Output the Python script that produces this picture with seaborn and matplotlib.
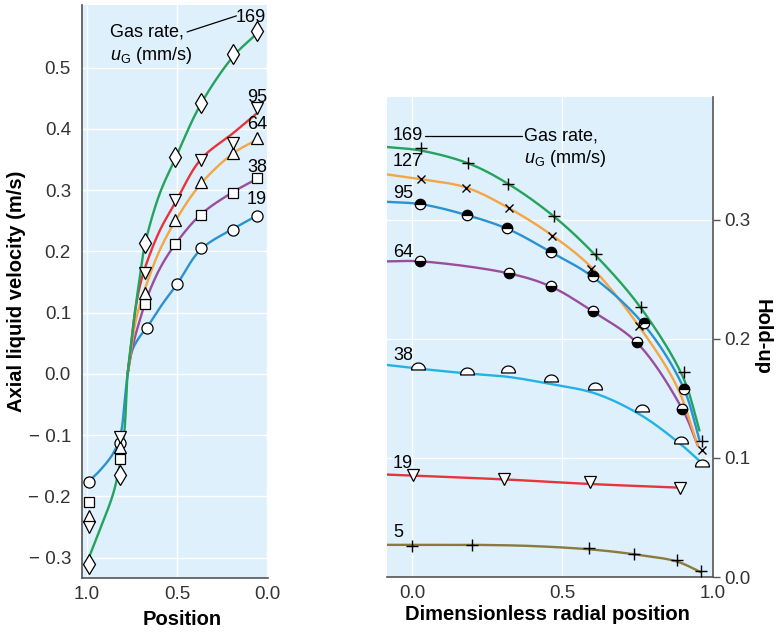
"""Axial liquid velocity and hold-up profiles for several gas rates."""

import matplotlib.pyplot as plt
import numpy as np
import seaborn as sns
from matplotlib.path import Path
from matplotlib.ticker import FixedLocator, FuncFormatter

# ---- left panel: axial liquid velocity (m/s) vs position ----
pos_pts = [0.99, 0.82, 0.68, 0.51, 0.37, 0.19, 0.06]
pos_pts_19 = [0.99, 0.82, 0.67, 0.50, 0.37, 0.19, 0.06]
vel_169 = [-0.31, -0.165, 0.214, 0.354, 0.442, 0.522, 0.56]
vel_95 = [-0.25, -0.103, 0.165, 0.284, 0.349, 0.377, 0.434]
vel_64 = [-0.232, -0.12, 0.132, 0.251, 0.313, 0.36, 0.385]
vel_38 = [-0.209, -0.139, 0.114, 0.212, 0.259, 0.296, 0.32]
vel_19 = [-0.176, -0.113, 0.075, 0.147, 0.205, 0.235, 0.258]

# fitted curves (knots)
fit169_x = [0.99, 0.93, 0.86, 0.83, 0.795, 0.775, 0.755, 0.735, 0.71, 0.68, 0.6, 0.51, 0.37, 0.19, 0.06]
fit169_y = [-0.30, -0.255, -0.20, -0.165, -0.10, 0.0, 0.05, 0.10, 0.153, 0.21, 0.292, 0.352, 0.44, 0.518, 0.555]
fit95_x = [0.775, 0.755, 0.735, 0.71, 0.68, 0.6, 0.51, 0.37, 0.19, 0.06]
fit95_y = [0.0, 0.05, 0.10, 0.14, 0.172, 0.232, 0.28, 0.35, 0.393, 0.425]
fit64_x = [0.775, 0.755, 0.735, 0.71, 0.68, 0.6, 0.51, 0.37, 0.19, 0.06]
fit64_y = [0.0, 0.04, 0.08, 0.11, 0.138, 0.2, 0.25, 0.31, 0.36, 0.382]
fit38_x = [0.775, 0.755, 0.73, 0.70, 0.68, 0.6, 0.51, 0.37, 0.19, 0.06]
fit38_y = [0.0, 0.035, 0.065, 0.095, 0.115, 0.17, 0.212, 0.26, 0.297, 0.318]
fit19_x = [0.99, 0.93, 0.856, 0.815, 0.79, 0.775, 0.75, 0.71, 0.67, 0.58, 0.5, 0.37, 0.19, 0.06]
fit19_y = [-0.175, -0.158, -0.13, -0.10, -0.04, 0.0, 0.038, 0.06, 0.075, 0.115, 0.147, 0.203, 0.237, 0.258]

# ---- right panel: hold-up vs dimensionless radial position ----
r169_x = [0.03, 0.186, 0.319, 0.473, 0.611, 0.76, 0.904, 0.965]
r169_y = [0.360, 0.348, 0.330, 0.303, 0.271, 0.227, 0.172, 0.114]
r127_x = [0.03, 0.179, 0.322, 0.466, 0.595, 0.753, 0.965]
r127_y = [0.334, 0.327, 0.310, 0.286, 0.259, 0.211, 0.107]
r95_x = [0.026, 0.183, 0.316, 0.462, 0.603, 0.772, 0.904]
r95_y = [0.313, 0.304, 0.293, 0.273, 0.253, 0.213, 0.158]
r64_x = [0.026, 0.322, 0.462, 0.603, 0.749, 0.898]
r64_y = [0.265, 0.255, 0.244, 0.223, 0.197, 0.141]
r38_x = [0.021, 0.183, 0.319, 0.462, 0.609, 0.764, 0.893, 0.965]
r38_y = [0.177, 0.173, 0.175, 0.167, 0.160, 0.142, 0.115, 0.096]
r19_x = [0.004, 0.305, 0.592, 0.890]
r19_y = [0.086, 0.082, 0.080, 0.075]
r5_x = [0.0, 0.201, 0.587, 0.738, 0.882, 0.959]
r5_y = [0.026, 0.027, 0.024, 0.019, 0.014, 0.005]

rfit169_x = [-0.083, 0.03, 0.19, 0.32, 0.47, 0.61, 0.76, 0.90, 0.955]
rfit169_y = [0.361, 0.358, 0.347, 0.330, 0.303, 0.270, 0.226, 0.168, 0.123]
rfit127_x = [-0.083, 0.03, 0.18, 0.32, 0.47, 0.60, 0.75, 0.88, 0.95]
rfit127_y = [0.338, 0.334, 0.327, 0.310, 0.286, 0.259, 0.212, 0.16, 0.11]
rfit95_x = [-0.083, 0.03, 0.18, 0.32, 0.46, 0.60, 0.77, 0.90, 0.955]
rfit95_y = [0.315, 0.313, 0.304, 0.292, 0.273, 0.252, 0.212, 0.16, 0.115]
rfit64_x = [-0.083, 0.03, 0.32, 0.46, 0.60, 0.75, 0.90, 0.95]
rfit64_y = [0.265, 0.265, 0.255, 0.244, 0.223, 0.196, 0.140, 0.110]
rfit38_x = [-0.083, 0.02, 0.18, 0.32, 0.46, 0.61, 0.76, 0.89, 0.955]
rfit38_y = [0.178, 0.175, 0.171, 0.168, 0.162, 0.154, 0.136, 0.112, 0.0975]
rfit19_x = [-0.083, 0.3, 0.6, 0.89]
rfit19_y = [0.086, 0.082, 0.078, 0.075]
rfit5_x = [-0.083, 0.0, 0.2, 0.4, 0.6, 0.74, 0.88, 0.96]
rfit5_y = [0.027, 0.027, 0.027, 0.026, 0.023, 0.019, 0.013, 0.004]

GREEN = "#23a35b"
RED = "#e6343c"
ORANGE = "#f4a545"
PURPLE = "#9a4d9f"
BLUE = "#2a92d2"
SKY = "#22b2e6"
OLIVE = "#8a7a3c"
BG = "#def0fb"
INK = "#333333"


def smooth(xk, yk, sx=1.0, sy=1.0, n=20):
    """Centripetal Catmull-Rom through the knots (distances measured in scaled units)."""
    p = np.column_stack([xk, yk]).astype(float)
    p = np.vstack([2 * p[0] - p[1], p, 2 * p[-1] - p[-2]])
    sc = np.array([sx, sy])
    out = []
    for i in range(1, len(p) - 2):
        p0, p1, p2, p3 = p[i - 1], p[i], p[i + 1], p[i + 2]
        t0 = 0.0
        t1 = t0 + np.linalg.norm((p1 - p0) * sc) ** 0.5
        t2 = t1 + np.linalg.norm((p2 - p1) * sc) ** 0.5
        t3 = t2 + np.linalg.norm((p3 - p2) * sc) ** 0.5
        t = np.linspace(t1, t2, n, endpoint=False)[:, None]
        a1 = (t1 - t) / (t1 - t0) * p0 + (t - t0) / (t1 - t0) * p1
        a2 = (t2 - t) / (t2 - t1) * p1 + (t - t1) / (t2 - t1) * p2
        a3 = (t3 - t) / (t3 - t2) * p2 + (t - t2) / (t3 - t2) * p3
        b1 = (t2 - t) / (t2 - t0) * a1 + (t - t0) / (t2 - t0) * a2
        b2 = (t3 - t) / (t3 - t1) * a2 + (t - t1) / (t3 - t1) * a3
        out.append((t2 - t) / (t2 - t1) * b1 + (t - t1) / (t2 - t1) * b2)
    out.append(p[-2][None])
    r = np.vstack(out)
    return r[:, 0], r[:, 1]


def curve(ax, xk, yk, color, sx, sy):
    xs, ys = smooth(xk, yk, sx, sy)
    sns.lineplot(x=xs, y=ys, ax=ax, color=color, lw=1.7, sort=False,
                 estimator=None, legend=False, zorder=2)


def marks(ax, xs, ys, marker, ms, **kw):
    style = dict(markerfacecolor="white", markeredgecolor="black", markeredgewidth=0.9)
    style.update(kw)
    sns.lineplot(x=xs, y=ys, ax=ax, marker=marker, markersize=ms, linestyle="none",
                 color="black", sort=False, estimator=None, legend=False, zorder=3,
                 **style)


def minus_fmt(v, _):
    return f"\u2212 {abs(v):.1f}" if v < -1e-9 else f"{v:.1f}"


sns.set_theme(style="white")
plt.rcParams["font.family"] = ["Liberation Sans", "DejaVu Sans"]
plt.rcParams["mathtext.fontset"] = "custom"
plt.rcParams["mathtext.rm"] = "Liberation Sans"
plt.rcParams["mathtext.it"] = "Liberation Sans:italic"

fig = plt.figure(figsize=(7.76, 6.33), dpi=100)
axL = fig.add_axes([82 / 776, 1 - 578 / 633, 186 / 776, 573 / 633])
axR = fig.add_axes([387 / 776, 1 - 577 / 633, 326 / 776, 480 / 633])

# half-disc marker (flat side down) for the 38 mm/s hold-up points
arc = np.linspace(0, np.pi, 25)
dome_verts = np.column_stack([np.cos(arc), np.sin(arc) - 0.5])
dome_verts = np.vstack([dome_verts, dome_verts[:1]])
dome = Path(dome_verts, [Path.MOVETO] + [Path.LINETO] * 24 + [Path.CLOSEPOLY])

# left panel
sxL, syL = 180.0, 613.0
curve(axL, fit19_x, fit19_y, BLUE, sxL, syL)
curve(axL, fit38_x, fit38_y, PURPLE, sxL, syL)
curve(axL, fit64_x, fit64_y, ORANGE, sxL, syL)
curve(axL, fit95_x, fit95_y, RED, sxL, syL)
curve(axL, fit169_x, fit169_y, GREEN, sxL, syL)
marks(axL, pos_pts_19, vel_19, "o", 8)
marks(axL, pos_pts, vel_38, "s", 7.5)
marks(axL, pos_pts, vel_64, "^", 8.5)
marks(axL, pos_pts, vel_95, "v", 8.5)
marks(axL, pos_pts, vel_169, "d", 10)

axL.set_xlim(1.028, -0.003)
axL.set_ylim(-0.333, 0.602)
axL.xaxis.set_major_locator(FixedLocator([1.0, 0.5, 0.0]))
axL.yaxis.set_major_locator(FixedLocator(np.round(np.arange(-0.3, 0.51, 0.1), 1)))
axL.yaxis.set_major_formatter(FuncFormatter(minus_fmt))
axL.xaxis.set_major_formatter(FuncFormatter(lambda v, _: f"{v:.1f}"))
axL.set_xlabel("Position", fontsize=14.5, fontweight="bold", color="black")
axL.set_ylabel("Axial liquid velocity (m/s)", fontsize=14.5, fontweight="bold", color="black")
axL.xaxis.label.set(va="center")
axL.yaxis.label.set(va="center", rotation_mode="default")
axL.xaxis.set_label_coords(0.54, -0.073)
axL.yaxis.set_label_coords(-0.35, 0.5)

txt = dict(fontsize=13, color="black", transform=axL.transAxes, va="center")
axL.text(0.909, 0.979, "169", ha="center", **txt)
axL.text(0.151, 0.953, "Gas rate,", ha="left", **txt)
axL.text(0.151, 0.912, r"$u_{\mathrm{G}}$ (mm/s)", ha="left", **txt)
axL.plot([0.565, 0.83], [0.953, 0.981], transform=axL.transAxes, color="black", lw=0.9)
axL.text(0.941, 0.839, "95", ha="center", **txt)
axL.text(0.941, 0.791, "64", ha="center", **txt)
axL.text(0.941, 0.717, "38", ha="center", **txt)
axL.text(0.941, 0.660, "19", ha="center", **txt)

# right panel
sxR, syR = 302.0, 1193.0
curve(axR, rfit5_x, rfit5_y, OLIVE, sxR, syR)
curve(axR, rfit19_x, rfit19_y, RED, sxR, syR)
curve(axR, rfit38_x, rfit38_y, SKY, sxR, syR)
curve(axR, rfit64_x, rfit64_y, PURPLE, sxR, syR)
curve(axR, rfit127_x, rfit127_y, ORANGE, sxR, syR)
curve(axR, rfit95_x, rfit95_y, BLUE, sxR, syR)
curve(axR, rfit169_x, rfit169_y, GREEN, sxR, syR)
marks(axR, r5_x, r5_y, "+", 8, markeredgewidth=1.0)
marks(axR, r19_x, r19_y, "v", 8.5)
marks(axR, r38_x, r38_y, dome, 10)
marks(axR, r64_x, r64_y, "o", 7.5, fillstyle="bottom",
      markerfacecolor="black", markerfacecoloralt="white")
marks(axR, r95_x, r95_y, "o", 7.5, fillstyle="top",
      markerfacecolor="black", markerfacecoloralt="white")
marks(axR, r127_x, r127_y, "x", 6, markeredgewidth=1.0)
marks(axR, r169_x, r169_y, "+", 8, markeredgewidth=1.0)

axR.set_xlim(-0.083, 1.0)
axR.set_ylim(0.0, 0.403)
axR.yaxis.tick_right()
axR.yaxis.set_label_position("right")
axR.xaxis.set_major_locator(FixedLocator([0.0, 0.5, 1.0]))
axR.yaxis.set_major_locator(FixedLocator([0.0, 0.1, 0.2, 0.3]))
axR.xaxis.set_major_formatter(FuncFormatter(lambda v, _: f"{v:.1f}"))
axR.yaxis.set_major_formatter(FuncFormatter(lambda v, _: f"{v:.1f}"))
axR.set_xlabel("Dimensionless radial position", fontsize=14.5, fontweight="bold", color="black")
axR.set_ylabel("Hold-up", fontsize=14.5, fontweight="bold", color="black", rotation=-90)
axR.xaxis.label.set(va="center")
axR.yaxis.label.set(va="center", ha="center", rotation_mode="default")
axR.xaxis.set_label_coords(0.492, -0.078)
axR.yaxis.set_label_coords(1.15, 0.5)

txt = dict(fontsize=13, color="black", transform=axR.transAxes, va="center", ha="left")
axR.text(0.018, 0.919, "169", **txt)
axR.plot([0.117, 0.414], [0.919, 0.919], transform=axR.transAxes, color="black", lw=0.9)
axR.text(0.42, 0.919, "Gas rate,", **txt)
axR.text(0.42, 0.871, r"$u_{\mathrm{G}}$ (mm/s)", **txt)
axR.text(0.018, 0.865, "127", **txt)
axR.text(0.018, 0.800, "95", **txt)
axR.text(0.018, 0.677, "64", **txt)
axR.text(0.018, 0.4625, "38", **txt)
axR.text(0.018, 0.2375, "19", **txt)
axR.text(0.018, 0.092, "5", **txt)

for ax, shown in ((axL, ("left", "bottom")), (axR, ("right", "bottom"))):
    ax.set_facecolor(BG)
    ax.grid(True, color="white", lw=1.0)
    ax.set_axisbelow(True)
    for name, sp in ax.spines.items():
        sp.set_visible(name in shown)
        sp.set_color("#555555")
        sp.set_linewidth(1.2)
    ax.tick_params(axis="x", direction="in", length=5, width=1, color="#555555",
                   labelsize=13.5, labelcolor=INK, pad=6)
    ax.tick_params(axis="y", direction="out", length=5, width=1, color="#555555",
                   labelsize=13.5, labelcolor=INK, pad=3)

fig.savefig("out.png", dpi=100)
